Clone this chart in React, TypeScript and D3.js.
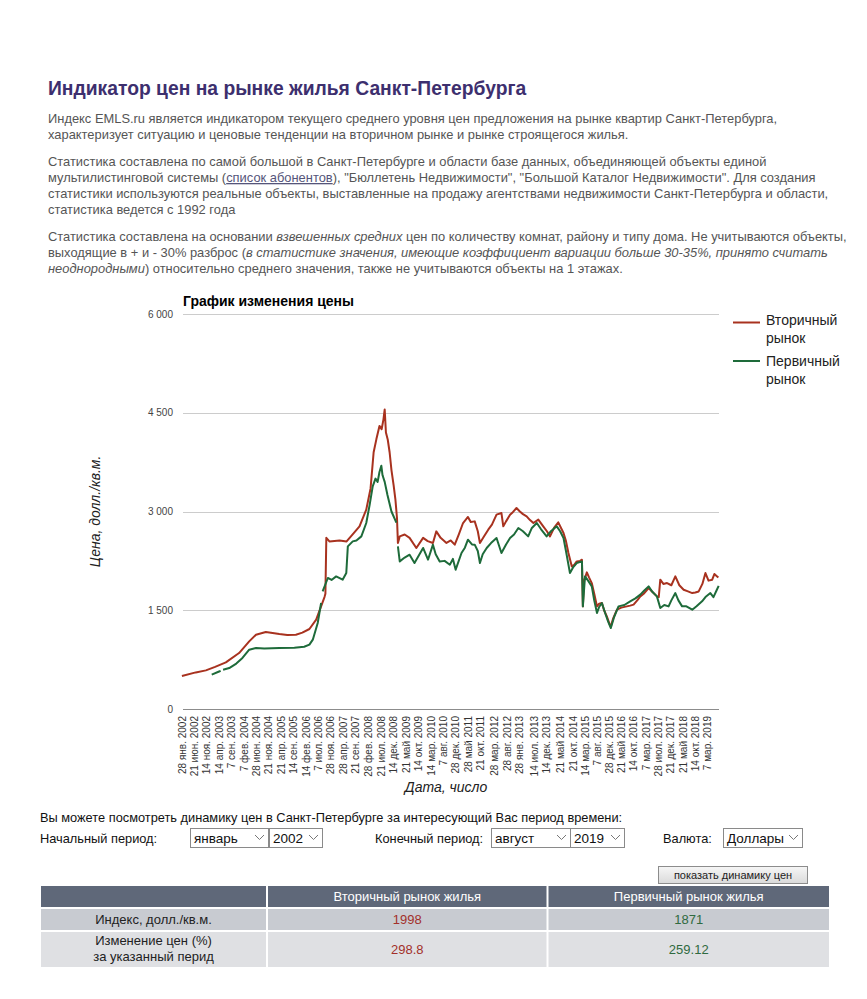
import React from 'react';
import * as d3 from 'd3';

// ---------- DATA ----------
const tickLabels = [
  '28 янв. 2002', '21 июн. 2002', '14 ноя. 2002', '14 апр. 2003', '7 сен. 2003', '7 фев. 2004',
  '28 июн. 2004', '21 ноя. 2004', '21 апр. 2005', '14 сен. 2005', '14 фев. 2006', '7 июл. 2006',
  '28 ноя. 2006', '28 апр. 2007', '21 сен. 2007', '28 фев. 2008', '21 июл. 2008', '14 дек. 2008',
  '21 май 2009', '14 окт. 2009', '14 мар. 2010', '7 авг. 2010', '28 дек. 2010', '28 май 2011',
  '21 окт. 2011', '28 мар. 2012', '28 авг. 2012', '28 янв. 2013', '14 июл. 2013', '14 дек. 2013',
  '21 май 2014', '21 окт. 2014', '14 мар. 2015', '7 авг. 2015', '28 дек. 2015', '21 май 2016',
  '14 окт. 2016', '7 мар. 2017', '28 июл. 2017', '21 дек. 2017', '21 май 2018', '14 окт. 2018',
  '7 мар. 2019',
];
const monthNames = ['янв.', 'фев.', 'мар.', 'апр.', 'май', 'июн.', 'июл.', 'авг.', 'сен.', 'окт.', 'ноя.', 'дек.'];
const yTicks = [0, 1500, 3000, 4500, 6000];

// [decimal year, price USD per sq.m.]; null = gap in data
const secondary: [number, number | null][] = [
  [2002.06, 500], [2002.51, 556], [2002.84, 587], [2003.14, 640], [2003.49, 708], [2003.92, 850],
  [2004.25, 1027], [2004.47, 1129], [2004.79, 1170], [2005.23, 1139], [2005.49, 1125], [2005.77, 1129],
  [2005.98, 1160], [2006.21, 1215], [2006.43, 1357], [2006.59, 1559], [2006.70, 1700], [2006.73, 1750],
  [2006.76, 2600], [2006.86, 2546], [2007.19, 2560], [2007.42, 2546], [2007.61, 2648], [2007.84, 2774],
  [2008.06, 3028], [2008.20, 3350], [2008.30, 3900], [2008.39, 4100], [2008.49, 4300], [2008.56, 4250],
  [2008.62, 4400], [2008.66, 4550], [2008.70, 4200], [2008.76, 4090], [2008.82, 3900], [2008.88, 3630],
  [2008.95, 3400], [2009.01, 3175], [2009.06, 2900], [2009.09, 2522], [2009.15, 2622], [2009.31, 2650],
  [2009.47, 2600], [2009.69, 2446], [2009.91, 2600], [2010.06, 2550], [2010.23, 2522], [2010.34, 2698],
  [2010.48, 2600], [2010.67, 2522], [2010.81, 2560], [2010.94, 2496], [2011.07, 2650], [2011.21, 2825],
  [2011.37, 2917], [2011.46, 2840], [2011.59, 2850], [2011.69, 2700], [2011.76, 2522], [2011.89, 2620],
  [2012.03, 2724], [2012.15, 2800], [2012.30, 2952], [2012.46, 2977], [2012.52, 2775], [2012.61, 2850],
  [2012.74, 2952], [2012.83, 2990], [2012.95, 3053], [2013.06, 3000], [2013.16, 2960], [2013.28, 2927],
  [2013.39, 2870], [2013.50, 2825], [2013.66, 2876], [2013.82, 2775], [2013.94, 2700], [2014.04, 2622],
  [2014.17, 2750], [2014.31, 2835], [2014.48, 2673], [2014.56, 2550], [2014.64, 2370], [2014.75, 2166],
  [2014.83, 2190], [2014.91, 2242], [2015.02, 2250], [2015.08, 2268], [2015.11, 1559], [2015.15, 1950],
  [2015.24, 2075], [2015.31, 2000], [2015.40, 1913], [2015.48, 1750], [2015.57, 1559], [2015.64, 1600],
  [2015.73, 1610], [2015.80, 1500], [2015.89, 1407], [2015.97, 1300], [2016.02, 1255], [2016.10, 1380],
  [2016.22, 1508], [2016.36, 1540], [2016.54, 1559], [2016.65, 1570], [2016.76, 1585], [2016.88, 1650],
  [2016.98, 1711], [2017.11, 1760], [2017.25, 1838], [2017.37, 1780], [2017.52, 1711], [2017.58, 1700],
  [2017.63, 1964], [2017.73, 1900], [2017.85, 1913], [2017.99, 1880], [2018.12, 2014], [2018.25, 1880],
  [2018.39, 1812], [2018.51, 1790], [2018.67, 1761], [2018.77, 1770], [2018.88, 1786], [2019.00, 1900],
  [2019.10, 2065], [2019.20, 1950], [2019.32, 1964], [2019.39, 2050], [2019.48, 2014], [2019.52, 1998],
];

const primary: [number, number | null][] = [
  [2003.03, 521], [2003.27, 570], [2003.32, 580], [2003.36, null], [2003.40, 595], [2003.60, 622],
  [2003.83, 690], [2004.03, 775], [2004.25, 901], [2004.47, 926], [2004.74, 920], [2005.23, 926],
  [2005.72, 930], [2006.04, 945], [2006.21, 977], [2006.32, 1053], [2006.48, 1306], [2006.59, 1610],
  [2006.61, null], [2006.64, 1786], [2006.81, 1990], [2006.93, 1960], [2007.08, 2014], [2007.29, 1964],
  [2007.41, 2065], [2007.46, 2470], [2007.62, 2546], [2007.74, 2560], [2007.90, 2622], [2008.06, 2825],
  [2008.17, 3100], [2008.27, 3382], [2008.36, 3500], [2008.43, 3450], [2008.49, 3600], [2008.55, 3696],
  [2008.59, 3550], [2008.66, 3450], [2008.75, 3250], [2008.88, 3000], [2009.04, 2830], [2009.06, null],
  [2009.09, 2470], [2009.15, 2242], [2009.31, 2300], [2009.47, 2344], [2009.63, 2217], [2009.77, 2330],
  [2009.91, 2446], [2010.07, 2268], [2010.23, 2496], [2010.32, 2350], [2010.45, 2242], [2010.61, 2250],
  [2010.78, 2192], [2010.88, 2280], [2010.97, 2116], [2011.16, 2370], [2011.27, 2450], [2011.37, 2572],
  [2011.50, 2500], [2011.59, 2496], [2011.69, 2400], [2011.76, 2217], [2011.85, 2350], [2011.98, 2446],
  [2012.12, 2520], [2012.30, 2597], [2012.46, 2370], [2012.61, 2500], [2012.74, 2597], [2012.87, 2650],
  [2013.01, 2749], [2013.16, 2700], [2013.33, 2622], [2013.45, 2750], [2013.61, 2825], [2013.75, 2730],
  [2013.93, 2622], [2014.07, 2700], [2014.26, 2775], [2014.37, 2700], [2014.48, 2597], [2014.56, 2400],
  [2014.69, 2065], [2014.79, 2150], [2014.91, 2217], [2015.08, 2242], [2015.11, 1559], [2015.18, 2014],
  [2015.28, 1950], [2015.40, 1863], [2015.48, 1650], [2015.57, 1458], [2015.64, 1550], [2015.73, 1610],
  [2015.84, 1450], [2015.93, 1330], [2016.02, 1230], [2016.13, 1400], [2016.27, 1559], [2016.46, 1580],
  [2016.65, 1635], [2016.82, 1680], [2016.98, 1737], [2017.11, 1800], [2017.25, 1863], [2017.37, 1780],
  [2017.52, 1711], [2017.63, 1533], [2017.76, 1580], [2017.90, 1559], [2017.99, 1650], [2018.12, 1761],
  [2018.22, 1650], [2018.34, 1559], [2018.48, 1560], [2018.67, 1508], [2018.81, 1560], [2018.99, 1635],
  [2019.10, 1700], [2019.26, 1761], [2019.36, 1700], [2019.46, 1800], [2019.53, 1871],
];

const tableHeaders = ['', 'Вторичный рынок жилья', 'Первичный рынок жилья'];
const indexValues = ['1998', '1871'];
const changeValues = ['298.8', '259.12'];

// ---------- STYLE ----------
const FONT = "Arial, 'Liberation Sans', Helvetica, sans-serif";
const RED = '#a8321f';
const GREEN = '#1e6b3a';
const TEXT = '#555';

function labelToYear(label: string) {
  const [d, m, y] = label.split(' ');
  const mi = monthNames.indexOf(m);
  return +y + (mi * 4 + +d / 7 - 1) / 48;
}

const plotLeft = 183;
const plotRight = 719;
const plotTop = 314;
const plotBottom = 709;

export default function App() {
  const x = d3
    .scaleLinear()
    .domain([labelToYear(tickLabels[0]), labelToYear(tickLabels[tickLabels.length - 1])])
    .range([182, 707.5]);
  const y = d3.scaleLinear().domain([0, 6000]).range([plotBottom, plotTop]);
  const fmt = (v: number) => d3.format(',')(v).replace(/,/g, ' ');

  const line = d3
    .line<[number, number | null]>()
    .defined((d) => d[1] !== null)
    .x((d) => x(d[0]))
    .y((d) => y(d[1] as number));

  const select = (bx: number, w: number, label: string) => (
    <g>
      <rect x={bx + 0.5} y={828.5} width={w} height={19} fill="#fff" stroke="#8a8a8a" />
      <text x={bx + 4} y={843} fontSize={13.5} fill="#111">{label}</text>
      <polyline
        points={`${bx + w - 13},${835} ${bx + w - 8.5},${839.5} ${bx + w - 4},${835}`}
        fill="none"
        stroke="#777"
        strokeWidth={1}
      />
    </g>
  );

  const colX = [41, 268, 548.5];
  const colW = [225, 278.5, 280.5];

  return (
    <svg
      width={867}
      height={999}
      style={{ position: 'absolute', left: 0, top: 0, background: '#fff' }}
      fontFamily={FONT}
    >
      <rect width={867} height={999} fill="#fff" />
      {/* Header */}
      <text x={48} y={95} fontSize={19.3} fontWeight="bold" fill="#3d2f6e">
        Индикатор цен на рынке жилья Санкт-Петербурга
      </text>
      <g fontSize={12.9} fill={TEXT}>
        <text x={48} y={123}>Индекс EMLS.ru является индикатором текущего среднего уровня цен предложения на рынке квартир Санкт-Петербурга,</text>
        <text x={48} y={139}>характеризует ситуацию и ценовые тенденции на вторичном рынке и рынке строящегося жилья.</text>
        <text x={48} y={166}>Статистика составлена по самой большой в Санкт-Петербурге и области базе данных, объединяющей объекты единой</text>
        <text x={48} y={182}>
          мультилистинговой системы (
          <tspan fill="#55557a" textDecoration="underline">список абонентов</tspan>
          ), "Бюллетень Недвижимости", "Большой Каталог Недвижимости". Для создания
        </text>
        <text x={48} y={198}>статистики используются реальные объекты, выставленные на продажу агентствами недвижимости Санкт-Петербурга и области,</text>
        <text x={48} y={214}>статистика ведется с 1992 года</text>
        <text x={48} y={241}>
          Статистика составлена на основании <tspan fontStyle="italic">взвешенных средних</tspan> цен по количеству комнат, району и типу дома. Не учитываются объекты,
        </text>
        <text x={48} y={257}>
          выходящие в + и - 30% разброс (<tspan fontStyle="italic">в статистике значения, имеющие коэффициент вариации больше 30-35%, принято считать</tspan>
        </text>
        <text x={48} y={273}>
          <tspan fontStyle="italic">неоднородными</tspan>) относительно среднего значения, также не учитываются объекты на 1 этажах.
        </text>
      </g>

      {/* Chart */}
      <text x={183} y={306} fontSize={14} fontWeight="bold" fill="#000">График изменения цены</text>
      {yTicks.map((t) => (
        <g key={t}>
          <line
            x1={plotLeft}
            x2={plotRight}
            y1={Math.round(y(t)) + 0.5}
            y2={Math.round(y(t)) + 0.5}
            stroke={t === 0 ? '#8c8c8c' : '#cccccc'}
            strokeWidth={1}
          />
          <text x={173} y={y(t)} dy="0.35em" textAnchor="end" fontSize={10} fill="#444">
            {fmt(t)}
          </text>
        </g>
      ))}
      <path d={line(secondary) || ''} fill="none" stroke={RED} strokeWidth={2} strokeLinejoin="round" />
      <path d={line(primary) || ''} fill="none" stroke={GREEN} strokeWidth={2} strokeLinejoin="round" />
      {tickLabels.map((l) => (
        <text
          key={l}
          transform={`translate(${x(labelToYear(l))},716) rotate(-90)`}
          dy="0.35em"
          textAnchor="end"
          fontSize={10}
          fill="#333"
        >
          {l}
        </text>
      ))}
      <text
        transform={`translate(95,${(plotTop + plotBottom) / 2}) rotate(-90)`}
        dy="0.35em"
        textAnchor="middle"
        fontSize={14}
        fontStyle="italic"
        fill="#222"
      >
        Цена, долл./кв.м.
      </text>
      <text x={446} y={792} textAnchor="middle" fontSize={14} fontStyle="italic" fill="#222">
        Дата, число
      </text>
      {/* Legend */}
      <g fontSize={14} fill="#222">
        <line x1={733} x2={760} y1={322.5} y2={322.5} stroke={RED} strokeWidth={2} />
        <text x={766} y={325}>Вторичный</text>
        <text x={766} y={343}>рынок</text>
        <line x1={733} x2={760} y1={361} y2={361} stroke={GREEN} strokeWidth={2} />
        <text x={766} y={366}>Первичный</text>
        <text x={766} y={384}>рынок</text>
      </g>

      {/* Form */}
      <g fontSize={12.8} fill="#111">
        <text x={40} y={822}>Вы можете посмотреть динамику цен в Санкт-Петербурге за интересующий Вас период времени:</text>
        <text x={40} y={843}>Начальный период:</text>
        <text x={375} y={843}>Конечный период:</text>
        <text x={663} y={843}>Валюта:</text>
      </g>
      {select(190, 78, 'январь')}
      {select(269, 53, '2002')}
      {select(491, 79, 'август')}
      {select(570, 54, '2019')}
      {select(723, 79, 'Доллары')}
      <defs>
        <linearGradient id="btn" x1="0" x2="0" y1="0" y2="1">
          <stop offset="0" stopColor="#f6f6f6" />
          <stop offset="1" stopColor="#dadada" />
        </linearGradient>
      </defs>
      <rect x={658.5} y={866.5} width={149} height={17} fill="url(#btn)" stroke="#8c8c8c" />
      <text x={733} y={879} textAnchor="middle" fontSize={11} fill="#222">показать динамику цен</text>

      {/* Table */}
      {colX.map((cx, i) => (
        <g key={i}>
          <rect x={cx} y={886} width={colW[i]} height={21} fill="#5f6879" />
          <rect x={cx} y={909} width={colW[i]} height={21} fill="#c8cbd1" />
          <rect x={cx} y={932} width={colW[i]} height={35} fill="#dfe0e3" />
          {tableHeaders[i] && (
            <text x={cx + colW[i] / 2} y={901} textAnchor="middle" fontSize={13} fill="#fff">
              {tableHeaders[i]}
            </text>
          )}
        </g>
      ))}
      <g fontSize={13} textAnchor="middle">
        <text x={colX[0] + colW[0] / 2} y={924} fill="#222">Индекс, долл./кв.м.</text>
        <text x={colX[0] + colW[0] / 2} y={945} fill="#222">Изменение цен (%)</text>
        <text x={colX[0] + colW[0] / 2} y={961} fill="#222">за указанный перид</text>
        <text x={colX[1] + colW[1] / 2} y={924} fill="#a3302a">{indexValues[0]}</text>
        <text x={colX[2] + colW[2] / 2} y={924} fill="#2f6a40">{indexValues[1]}</text>
        <text x={colX[1] + colW[1] / 2} y={954} fill="#a3302a">{changeValues[0]}</text>
        <text x={colX[2] + colW[2] / 2} y={954} fill="#2f6a40">{changeValues[1]}</text>
      </g>
    </svg>
  );
}
